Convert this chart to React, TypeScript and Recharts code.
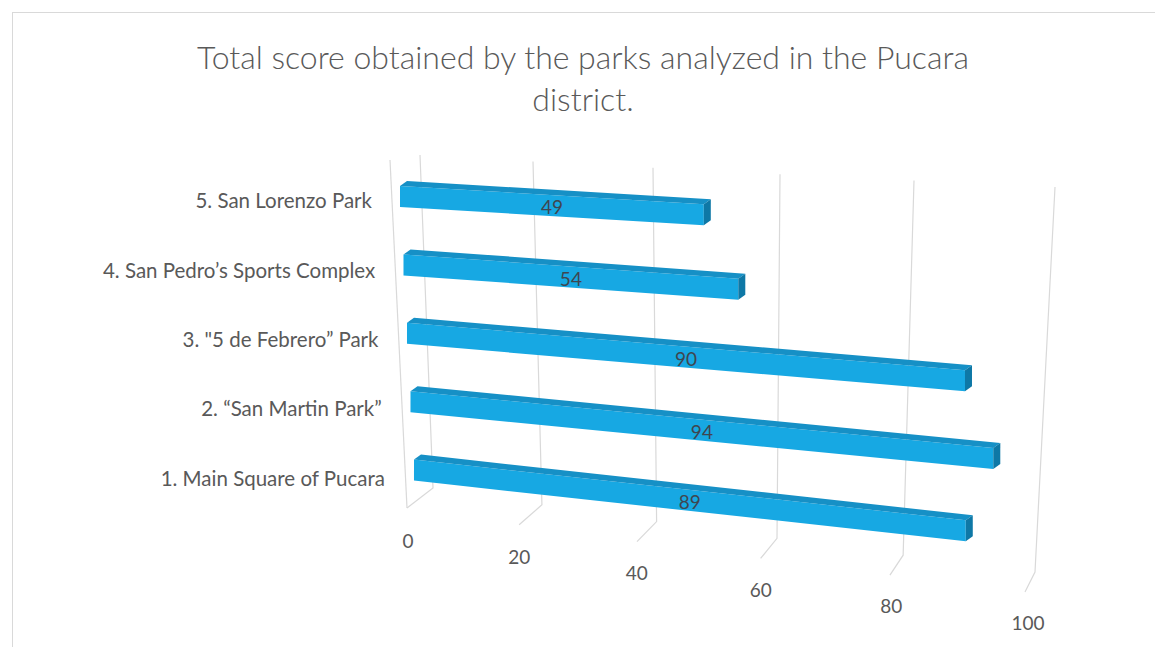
import React from "react";
import { BarChart, Bar, XAxis, YAxis, CartesianGrid, LabelList } from "recharts";

const categories = [
  "1. Main Square of Pucara",
  "2. \u201cSan Martin Park\u201d",
  "3. \"5 de Febrero\u201d  Park",
  "4. San Pedro\u2019s Sports Complex",
  "5. San Lorenzo Park",
];
const scores = [89, 94, 90, 54, 49];
const xTicks = [0, 20, 40, 60, 80, 100];

const data = categories.map((name, i) => ({ name, score: scores[i] }));

const FONT = "Lato, 'Open Sans', sans-serif";
const TEXT = "#595959";
const GRID = "#d9d9d9";

// depth factor: 0 for the back (top) row, 1 for the front (bottom) row
const depth = (y: number) => (y - 181) / 274;

function Bar3D(props: any) {
  const { x, y, width, height } = props;
  const k = depth(y);
  const s = 0.06 + 0.05 * k;
  const x0 = x + (-8 + 14 * k);
  const w = width;
  const t = 5;
  const d = 7;
  const drop = w * s;
  const front = `${x0},${y + t} ${x0 + w},${y + t + drop} ${x0 + w},${y + height + drop} ${x0},${y + height}`;
  const top = `${x0},${y + t} ${x0 + d},${y} ${x0 + w + d},${y + drop} ${x0 + w},${y + t + drop}`;
  const end = `${x0 + w},${y + t + drop} ${x0 + w + d},${y + drop} ${x0 + w + d},${y + height - t + drop} ${x0 + w},${y + height + drop}`;
  return (
    <g>
      <polygon points={front} fill="#17a8e3" />
      <polygon points={top} fill="#1690c6" />
      <polygon points={end} fill="#0e78a6" />
    </g>
  );
}

function BarValue(props: any) {
  const { x, y, width, height, value } = props;
  const k = depth(y);
  const s = 0.06 + 0.05 * k;
  const x0 = x + (-8 + 14 * k);
  const cx = x0 + width / 2;
  const cy = y + (5 + height) / 2 + (width / 2) * s + 1;
  return (
    <text x={cx} y={cy} textAnchor="middle" dominantBaseline="central" fontFamily={FONT} fontSize={19} fill="#3f4650">
      {value}
    </text>
  );
}

function GridLine(props: any) {
  const { x1, y1, y2, index } = props;
  const v = xTicks[index] ?? 0;
  const tx = x1 + 12 - 0.725 * v + 0.00875 * v * v;
  const ty = y1 - 5 + 0.32 * v;
  const bx = x1 + 25 - 0.8967 * v + 0.007167 * v * v;
  const by = y2 - 14 + 0.84 * v;
  const fx = bx - 26 + 0.16 * v;
  const fy = by + 20;
  return (
    <g>
      <polyline points={`${tx},${ty} ${bx},${by} ${fx},${fy}`} fill="none" stroke={GRID} strokeWidth={1.2} />
      {index === 0 && (
        <line x1={fx} y1={fy} x2={fx - 17} y2={y1} stroke={GRID} strokeWidth={1.2} />
      )}
    </g>
  );
}

function XTick(props: any) {
  const { x, y, payload } = props;
  const v = payload.value;
  const lx = x - 0.008 * v * (100 - v);
  const ly = y + 30 + 0.82 * v;
  return (
    <text x={lx} y={ly} textAnchor="middle" dominantBaseline="central" fontFamily={FONT} fontSize={19} fill={TEXT}>
      {v}
    </text>
  );
}

function YTick(props: any) {
  const { x, y, payload } = props;
  const k = (y - 194) / 274;
  return (
    <text x={x - 28 + 13 * k} y={y + 6 + 4 * k} textAnchor="end" dominantBaseline="central" fontFamily={FONT} fontSize={20.5} fill={TEXT}>
      {payload.value}
    </text>
  );
}

export default function App() {
  return (
    <div style={{ position: "absolute", left: 0, top: 0, width: 1155, height: 647, background: "#fff", overflow: "hidden" }}>
      <div
        style={{
          position: "absolute",
          left: 12,
          top: 12,
          width: 1200,
          height: 700,
          borderTop: `1px solid ${GRID}`,
          borderLeft: `1px solid ${GRID}`,
        }}
      />
      <div
        style={{
          position: "absolute",
          left: 0,
          top: 36,
          width: 1166,
          textAlign: "center",
          fontFamily: FONT,
          fontWeight: 300,
          fontSize: 32,
          lineHeight: "42px",
          color: TEXT,
        }}
      >
        Total score obtained by the parks analyzed in the Pucara
        <br />
        district.
      </div>
      <div style={{ position: "absolute", left: 0, top: 0 }}>
        <BarChart
          width={1155}
          height={647}
          layout="vertical"
          data={data}
          margin={{ top: 160, right: 127, bottom: 85, left: 0 }}
        >
          <CartesianGrid horizontal={false} vertical={GridLine} />
          <XAxis
            type="number"
            domain={[0, 100]}
            ticks={xTicks}
            height={60}
            axisLine={false}
            tickLine={false}
            tick={XTick}
          />
          <YAxis
            type="category"
            dataKey="name"
            reversed
            width={408}
            axisLine={false}
            tickLine={false}
            tick={YTick}
          />
          <Bar dataKey="score" barSize={26} shape={Bar3D} isAnimationActive={false}>
            <LabelList dataKey="score" content={BarValue} />
          </Bar>
        </BarChart>
      </div>
    </div>
  );
}
